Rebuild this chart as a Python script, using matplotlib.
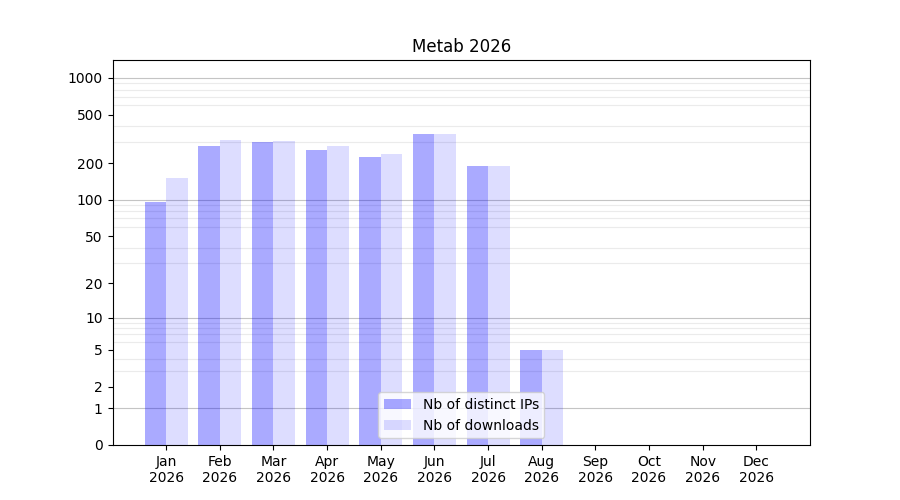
import numpy as np
import matplotlib
matplotlib.use("Agg")
import matplotlib.pyplot as plt
from matplotlib.ticker import FixedLocator, NullFormatter

months = ["Jan", "Feb", "Mar", "Apr", "May", "Jun", "Jul", "Aug", "Sep", "Oct", "Nov", "Dec"]
year = "2026"
distinct_ips = [96, 275, 300, 255, 225, 350, 188, 5, 0, 0, 0, 0]
downloads = [150, 310, 305, 275, 240, 350, 188, 5, 0, 0, 0, 0]
ytick_values = [0, 1, 2, 5, 10, 20, 50, 100, 200, 500, 1000]

fig, ax = plt.subplots(figsize=(9, 5), dpi=100)
x = np.arange(len(months))
ax.set_yscale("function", functions=(lambda v: np.log10(np.maximum(v, 0) + 1),
                                      lambda v: 10 ** v - 1))
ax.bar(x, distinct_ips, width=-0.4, align="edge", color=(0, 0, 1, 0.333),
       label="Nb of distinct IPs", zorder=2)
ax.bar(x, downloads, width=0.4, align="edge", color=(0, 0, 1, 0.135),
       label="Nb of downloads", zorder=2)

ax.set_xlim(-1, 12)
ax.set_ylim(0, 1400)
ax.set_xticks(x)
ax.set_xticklabels([f"{m}\n{year}" for m in months])
ax.yaxis.set_major_locator(FixedLocator(ytick_values))
ax.set_yticklabels([str(v) for v in ytick_values])
minor = [n * 10 ** k for k in range(0, 4) for n in range(1, 10) if n * 10 ** k <= 1400]
ax.yaxis.set_minor_locator(FixedLocator(minor))
ax.yaxis.set_minor_formatter(NullFormatter())
ax.tick_params(axis="y", which="minor", length=0)
ax.grid(which="minor", axis="y", color="#ebebeb", linewidth=0.8, zorder=0)
for d in [1, 10, 100, 1000]:
    ax.axhline(d, color="#c4c4c4", linewidth=0.8, zorder=1)
ax.set_axisbelow(True)
ax.set_title("Metab 2026")
ax.legend(loc="lower center")
fig.savefig("out.png")
